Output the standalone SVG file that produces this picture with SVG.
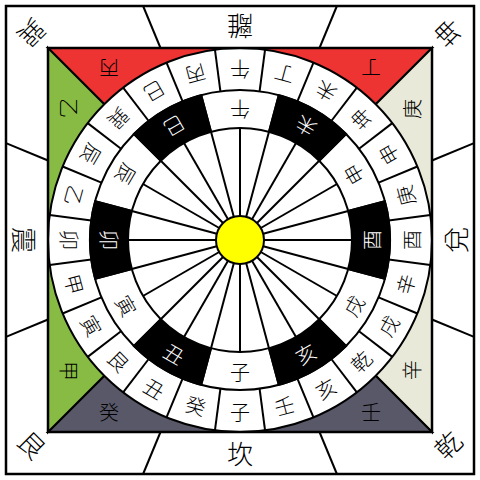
<svg xmlns="http://www.w3.org/2000/svg" width="480" height="480" viewBox="0 0 480 480">
<style>
text{font-family:"Noto Sans CJK JP","Noto Sans CJK SC",sans-serif;text-anchor:middle;dominant-baseline:central;fill:#000;font-weight:300}
.r{font-size:20px}
.w{fill:#fff}
.t{font-size:26px}
.k{stroke:#000;stroke-width:2}
.ln{stroke:#000;stroke-width:2;fill:none}
</style>
<defs>
<line id="ob" class="k" x1="240" y1="90" x2="240" y2="48"/>
<line id="ib" class="k" x1="240" y1="128" x2="240" y2="90"/>
<line id="sp" class="k" x1="240" y1="216" x2="240" y2="128"/>
<path id="bk" d="M201.18,95.11 A150,150 0 0 1 278.82,95.11 L268.99,131.82 A112,112 0 0 0 211.01,131.82 Z" fill="#000" stroke="#000" stroke-width="2"/>
</defs>
<rect width="480" height="480" fill="#fff"/>
<rect x="6" y="6" width="468" height="468" fill="none" stroke="#000" stroke-width="2.5"/>
<g id="frame-lines" class="ln">
<line x1="160.5" y1="48" x2="143.1" y2="6"/>
<line x1="319.5" y1="48" x2="336.9" y2="6"/>
<line x1="432" y1="160.5" x2="474" y2="143.1"/>
<line x1="432" y1="319.5" x2="474" y2="336.9"/>
<line x1="319.5" y1="432" x2="336.9" y2="474"/>
<line x1="160.5" y1="432" x2="143.1" y2="474"/>
<line x1="48" y1="319.5" x2="6" y2="336.9"/>
<line x1="48" y1="160.5" x2="6" y2="143.1"/>
</g>
<g id="triangles" stroke="#000" stroke-width="2">
<polygon points="48,48 432,48 240,240" fill="#ee3333"/>
<polygon points="432,48 432,432 240,240" fill="#e9e9d9"/>
<polygon points="48,432 432,432 240,240" fill="#585868"/>
<polygon points="48,48 48,432 240,240" fill="#88bb44"/>
</g>
<g id="rings">
<circle cx="240" cy="240" r="192" fill="#fff" stroke="#000" stroke-width="2"/>
<use href="#ob" transform="rotate(7.5 240 240)"/>
<use href="#ob" transform="rotate(22.5 240 240)"/>
<use href="#ob" transform="rotate(37.5 240 240)"/>
<use href="#ob" transform="rotate(52.5 240 240)"/>
<use href="#ob" transform="rotate(67.5 240 240)"/>
<use href="#ob" transform="rotate(82.5 240 240)"/>
<use href="#ob" transform="rotate(97.5 240 240)"/>
<use href="#ob" transform="rotate(112.5 240 240)"/>
<use href="#ob" transform="rotate(127.5 240 240)"/>
<use href="#ob" transform="rotate(142.5 240 240)"/>
<use href="#ob" transform="rotate(157.5 240 240)"/>
<use href="#ob" transform="rotate(172.5 240 240)"/>
<use href="#ob" transform="rotate(187.5 240 240)"/>
<use href="#ob" transform="rotate(202.5 240 240)"/>
<use href="#ob" transform="rotate(217.5 240 240)"/>
<use href="#ob" transform="rotate(232.5 240 240)"/>
<use href="#ob" transform="rotate(247.5 240 240)"/>
<use href="#ob" transform="rotate(262.5 240 240)"/>
<use href="#ob" transform="rotate(277.5 240 240)"/>
<use href="#ob" transform="rotate(292.5 240 240)"/>
<use href="#ob" transform="rotate(307.5 240 240)"/>
<use href="#ob" transform="rotate(322.5 240 240)"/>
<use href="#ob" transform="rotate(337.5 240 240)"/>
<use href="#ob" transform="rotate(352.5 240 240)"/>
<circle cx="240" cy="240" r="150" fill="#fff" stroke="#000" stroke-width="2"/>
<use href="#bk" transform="rotate(30 240 240)"/>
<use href="#bk" transform="rotate(90 240 240)"/>
<use href="#bk" transform="rotate(150 240 240)"/>
<use href="#bk" transform="rotate(210 240 240)"/>
<use href="#bk" transform="rotate(270 240 240)"/>
<use href="#bk" transform="rotate(330 240 240)"/>
<use href="#ib" transform="rotate(15 240 240)"/>
<use href="#ib" transform="rotate(45 240 240)"/>
<use href="#ib" transform="rotate(75 240 240)"/>
<use href="#ib" transform="rotate(105 240 240)"/>
<use href="#ib" transform="rotate(135 240 240)"/>
<use href="#ib" transform="rotate(165 240 240)"/>
<use href="#ib" transform="rotate(195 240 240)"/>
<use href="#ib" transform="rotate(225 240 240)"/>
<use href="#ib" transform="rotate(255 240 240)"/>
<use href="#ib" transform="rotate(285 240 240)"/>
<use href="#ib" transform="rotate(315 240 240)"/>
<use href="#ib" transform="rotate(345 240 240)"/>
<circle cx="240" cy="240" r="112" fill="#fff" stroke="#000" stroke-width="2"/>
<use href="#sp"/>
<use href="#sp" transform="rotate(15 240 240)"/>
<use href="#sp" transform="rotate(30 240 240)"/>
<use href="#sp" transform="rotate(45 240 240)"/>
<use href="#sp" transform="rotate(60 240 240)"/>
<use href="#sp" transform="rotate(75 240 240)"/>
<use href="#sp" transform="rotate(90 240 240)"/>
<use href="#sp" transform="rotate(105 240 240)"/>
<use href="#sp" transform="rotate(120 240 240)"/>
<use href="#sp" transform="rotate(135 240 240)"/>
<use href="#sp" transform="rotate(150 240 240)"/>
<use href="#sp" transform="rotate(165 240 240)"/>
<use href="#sp" transform="rotate(180 240 240)"/>
<use href="#sp" transform="rotate(195 240 240)"/>
<use href="#sp" transform="rotate(210 240 240)"/>
<use href="#sp" transform="rotate(225 240 240)"/>
<use href="#sp" transform="rotate(240 240 240)"/>
<use href="#sp" transform="rotate(255 240 240)"/>
<use href="#sp" transform="rotate(270 240 240)"/>
<use href="#sp" transform="rotate(285 240 240)"/>
<use href="#sp" transform="rotate(300 240 240)"/>
<use href="#sp" transform="rotate(315 240 240)"/>
<use href="#sp" transform="rotate(330 240 240)"/>
<use href="#sp" transform="rotate(345 240 240)"/>
<circle id="sun" cx="240" cy="240" r="24" fill="#ffff00" stroke="#000" stroke-width="2"/>
</g>
<rect x="48" y="48" width="384" height="384" fill="none" stroke="#000" stroke-width="2.5"/>
<g id="outer-ring-labels" class="r">
<text x="240" y="411" transform="rotate(180 240 240)">午</text>
<text x="240" y="411" transform="rotate(195 240 240)">丁</text>
<text x="240" y="411" transform="rotate(210 240 240)">未</text>
<text x="240" y="411" transform="rotate(225 240 240)">坤</text>
<text x="240" y="411" transform="rotate(240 240 240)">申</text>
<text x="240" y="411" transform="rotate(255 240 240)">庚</text>
<text x="240" y="411" transform="rotate(270 240 240)">酉</text>
<text x="240" y="411" transform="rotate(285 240 240)">辛</text>
<text x="240" y="411" transform="rotate(300 240 240)">戌</text>
<text x="240" y="411" transform="rotate(315 240 240)">乾</text>
<text x="240" y="411" transform="rotate(330 240 240)">亥</text>
<text x="240" y="411" transform="rotate(345 240 240)">壬</text>
<text x="240" y="411">子</text>
<text x="240" y="411" transform="rotate(15 240 240)">癸</text>
<text x="240" y="411" transform="rotate(30 240 240)">丑</text>
<text x="240" y="411" transform="rotate(45 240 240)">艮</text>
<text x="240" y="411" transform="rotate(60 240 240)">寅</text>
<text x="240" y="411" transform="rotate(75 240 240)">甲</text>
<text x="240" y="411" transform="rotate(90 240 240)">卯</text>
<text x="240" y="411" transform="rotate(105 240 240)">乙</text>
<text x="240" y="411" transform="rotate(120 240 240)">辰</text>
<text x="240" y="411" transform="rotate(135 240 240)">巽</text>
<text x="240" y="411" transform="rotate(150 240 240)">巳</text>
<text x="240" y="411" transform="rotate(165 240 240)">丙</text>
</g>
<g id="inner-ring-labels" class="r">
<text x="240" y="371" transform="rotate(180 240 240)">午</text>
<text class="w" x="240" y="371" transform="rotate(210 240 240)">未</text>
<text x="240" y="371" transform="rotate(240 240 240)">申</text>
<text class="w" x="240" y="371" transform="rotate(270 240 240)">酉</text>
<text x="240" y="371" transform="rotate(300 240 240)">戌</text>
<text class="w" x="240" y="371" transform="rotate(330 240 240)">亥</text>
<text x="240" y="371">子</text>
<text class="w" x="240" y="371" transform="rotate(30 240 240)">丑</text>
<text x="240" y="371" transform="rotate(60 240 240)">寅</text>
<text class="w" x="240" y="371" transform="rotate(90 240 240)">卯</text>
<text x="240" y="371" transform="rotate(120 240 240)">辰</text>
<text class="w" x="240" y="371" transform="rotate(150 240 240)">巳</text>
</g>
<g id="triangle-labels" class="r">
<text x="109" y="68" transform="rotate(180 109 68)">丙</text>
<text x="371" y="68" transform="rotate(180 371 68)">丁</text>
<text x="69" y="108" transform="rotate(90 69 108)">乙</text>
<text x="69" y="371" transform="rotate(90 69 371)">甲</text>
<text x="411" y="109" transform="rotate(270 411 109)">庚</text>
<text x="411" y="370" transform="rotate(270 411 370)">辛</text>
<text x="109" y="411">癸</text>
<text x="371" y="411">壬</text>
</g>
<g id="trigram-labels" class="t">
<text x="240" y="27" transform="rotate(180 240 27)">離</text>
<text x="454" y="240" transform="rotate(270 454 240)">兌</text>
<text x="240" y="452">坎</text>
<text x="25" y="240" transform="rotate(90 25 240)">震</text>
<text x="33" y="34" transform="rotate(135 33 34)">巽</text>
<text x="447" y="34" transform="rotate(225 447 34)">坤</text>
<text x="447" y="444" transform="rotate(315 447 444)">乾</text>
<text x="33" y="444" transform="rotate(45 33 444)">艮</text>
</g>
</svg>
